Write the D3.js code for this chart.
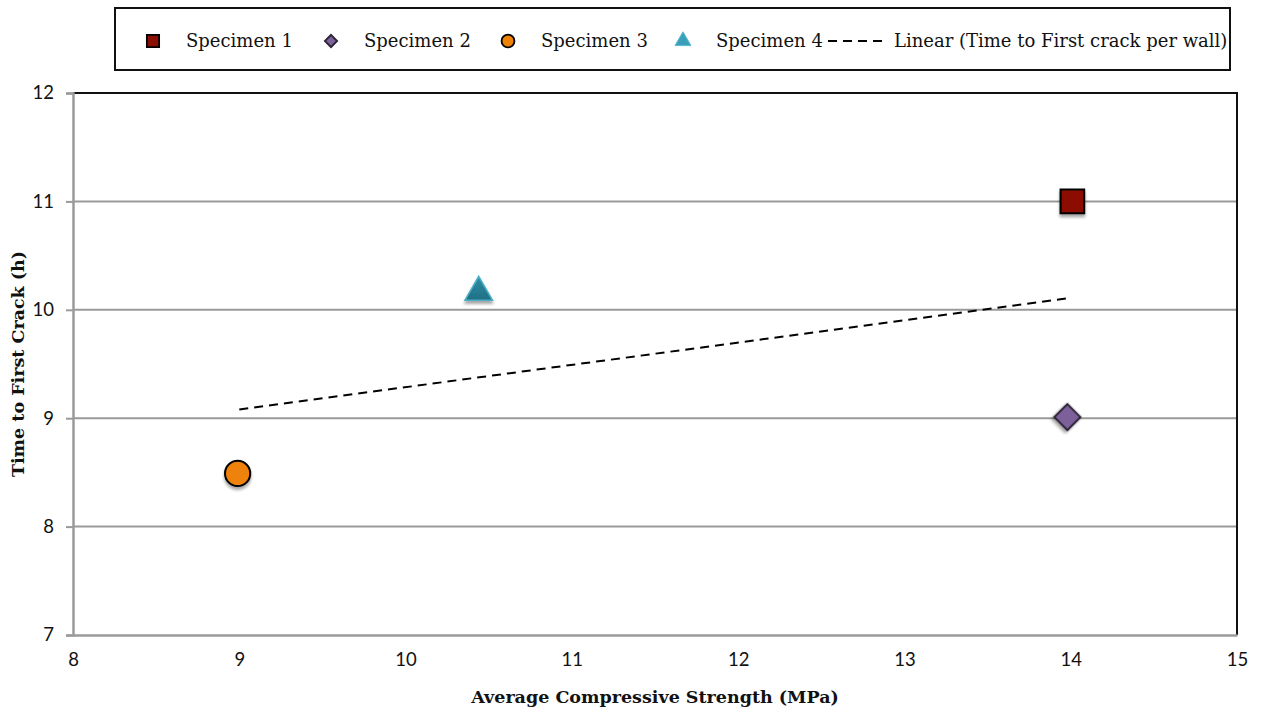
<!DOCTYPE html>
<html><head><meta charset="utf-8">
<script src="https://cdn.jsdelivr.net/npm/d3@7"></script>
<style>
html,body{margin:0;padding:0;background:#fff;}
svg{display:block;}
</style>
</head><body>
<svg id="chart" width="1262" height="711"></svg>
<script>
// ---- data ----
const seriesNames = ["Specimen 1", "Specimen 2", "Specimen 3", "Specimen 4"];
const strengthMPa = [14.01, 13.98, 8.99, 10.44];
const timeToCrack = [11.0, 9.01, 8.49, 10.18];
const trendX = [9, 14];
const trendY = [9.08, 10.11];
const xTicks = [8, 9, 10, 11, 12, 13, 14, 15];
const yTicks = [7, 8, 9, 10, 11, 12];
const trendLabel = "Linear (Time to First crack per wall)";

const svg = d3.select("#chart");
const L = 73, R = 1237, T = 93, B = 635;
const x = d3.scaleLinear().domain([8, 15]).range([L, R]);
const y = d3.scaleLinear().domain([7, 12]).range([B, T]);
const serif = "'DejaVu Serif', 'Liberation Serif', serif";
const sans = "Lato, 'Open Sans', sans-serif";

const defs = svg.append("defs");
const f = defs.append("filter").attr("id", "sh").attr("x", "-50%").attr("y", "-50%").attr("width", "200%").attr("height", "200%");
f.append("feGaussianBlur").attr("in", "SourceAlpha").attr("stdDeviation", 1.5).attr("result", "b");
f.append("feOffset").attr("in", "b").attr("dx", 0).attr("dy", 3).attr("result", "o");
f.append("feComponentTransfer").attr("in", "o").attr("result", "o2")
  .append("feFuncA").attr("type", "linear").attr("slope", 0.35);
const m = f.append("feMerge");
m.append("feMergeNode").attr("in", "o2");
m.append("feMergeNode").attr("in", "SourceGraphic");

const tg = defs.append("linearGradient").attr("id", "tri").attr("x1", 0).attr("y1", 0).attr("x2", 0).attr("y2", 1);
tg.append("stop").attr("offset", "0%").attr("stop-color", "#2f8fa6");
tg.append("stop").attr("offset", "100%").attr("stop-color", "#1f6f83");

// gridlines
svg.append("g").selectAll("line").data(yTicks.filter(d => d > 7 && d < 12)).join("line")
  .attr("x1", L).attr("x2", R).attr("y1", d => y(d)).attr("y2", d => y(d))
  .attr("stroke", "#9a9a9a").attr("stroke-width", 2);

// top & right border
svg.append("path").attr("d", `M${L},${T}H${R}V${B}`).attr("fill", "none").attr("stroke", "#111").attr("stroke-width", 2);

// y axis
const yAxis = d3.axisLeft(y).tickValues(yTicks).tickSize(7).tickPadding(12).tickFormat(d3.format("d"));
const gy = svg.append("g").attr("transform", `translate(${L},0)`).call(yAxis);
gy.select(".domain").attr("stroke", "#9a9a9a").attr("stroke-width", 2.5);
gy.selectAll(".tick line").attr("stroke", "#9a9a9a").attr("stroke-width", 2);
gy.selectAll("text").attr("font-family", sans).attr("font-size", 18.5).attr("fill", "#111");

// x axis
const xAxis = d3.axisBottom(x).tickValues(xTicks).tickSize(0).tickPadding(18).tickFormat(d3.format("d"));
const gx = svg.append("g").attr("transform", `translate(0,${B})`).call(xAxis);
gx.select(".domain").attr("stroke", "#9a9a9a").attr("stroke-width", 2.5);
gx.selectAll("text").attr("font-family", sans).attr("font-size", 18.5).attr("fill", "#111");

// trend line
svg.append("line")
  .attr("x1", x(trendX[0])).attr("y1", y(trendY[0]))
  .attr("x2", x(trendX[1])).attr("y2", y(trendY[1]))
  .attr("stroke", "#000").attr("stroke-width", 2).attr("stroke-dasharray", "9,6");

// markers
const styles = [
  {fill: "#8c0f03", stroke: "#000", type: d3.symbolSquare, size: 560, sw: 2, rot: 0, leg: 150},
  {fill: "#7c619a", stroke: "#2b2233", type: d3.symbolSquare, size: 340, sw: 2, rot: 45, leg: 75},
  {fill: "#ee8207", stroke: "#000", type: d3.symbolCircle, size: 500, sw: 2, rot: 0, leg: 130},
  {fill: "url(#tri)", stroke: "#4bb0c9", type: d3.symbolTriangle, size: 330, sw: 1.5, rot: 0, leg: 110}
];
const pts = seriesNames.map((n, i) => ({n, x: strengthMPa[i], y: timeToCrack[i], s: styles[i]}));
svg.append("g").selectAll("path").data(pts).join("path")
  .attr("transform", d => `translate(${x(d.x)},${y(d.y) + (d.s.type === d3.symbolTriangle ? 2 : 0)}) rotate(${d.s.rot})`)
  .attr("d", d => d3.symbol().type(d.s.type).size(d.s.size)())
  .attr("fill", d => d.s.fill).attr("stroke", d => d.s.stroke).attr("stroke-width", d => d.s.sw)
  .attr("filter", "url(#sh)");

// axis titles
svg.append("text").attr("x", 655).attr("y", 703).attr("text-anchor", "middle")
  .attr("font-family", serif).attr("font-weight", "bold").attr("font-size", 17.5)
  .attr("fill", "#111").text("Average Compressive Strength (MPa)");
svg.append("text").attr("transform", `translate(24,${(T + B) / 2}) rotate(-90)`).attr("text-anchor", "middle")
  .attr("font-family", serif).attr("font-weight", "bold").attr("font-size", 17.5)
  .attr("fill", "#111").text("Time to First Crack (h)");

// legend
const lg = svg.append("g");
lg.append("rect").attr("x", 115).attr("y", 8).attr("width", 1115).attr("height", 62)
  .attr("fill", "#fff").attr("stroke", "#111").attr("stroke-width", 2);
const legX = [153, 331, 508, 683];
const legend = lg.selectAll("g.it").data(pts).join("g").attr("class", "it")
  .attr("transform", (d, i) => `translate(${legX[i]},41)`);
legend.append("path")
  .attr("transform", d => `rotate(${d.s.rot})`)
  .attr("d", d => d3.symbol().type(d.s.type).size(d.s.leg)())
  .attr("fill", d => d.s.type === d3.symbolTriangle ? "#3a9fb8" : d.s.fill)
  .attr("stroke", d => d.s.type === d3.symbolTriangle ? "#5bbad2" : d.s.stroke)
  .attr("stroke-width", d => d.s.type === d3.symbolTriangle ? 1 : 1.8);
legend.append("text").attr("x", 33).attr("y", 6)
  .attr("font-family", serif).attr("font-size", 18).attr("fill", "#111")
  .text(d => d.n);
lg.append("line").attr("x1", 828).attr("x2", 888).attr("y1", 41).attr("y2", 41)
  .attr("stroke", "#000").attr("stroke-width", 2).attr("stroke-dasharray", "9,6");
lg.append("text").attr("x", 894).attr("y", 47)
  .attr("font-family", serif).attr("font-size", 18).attr("fill", "#111")
  .text(trendLabel);
</script>
</body></html>
